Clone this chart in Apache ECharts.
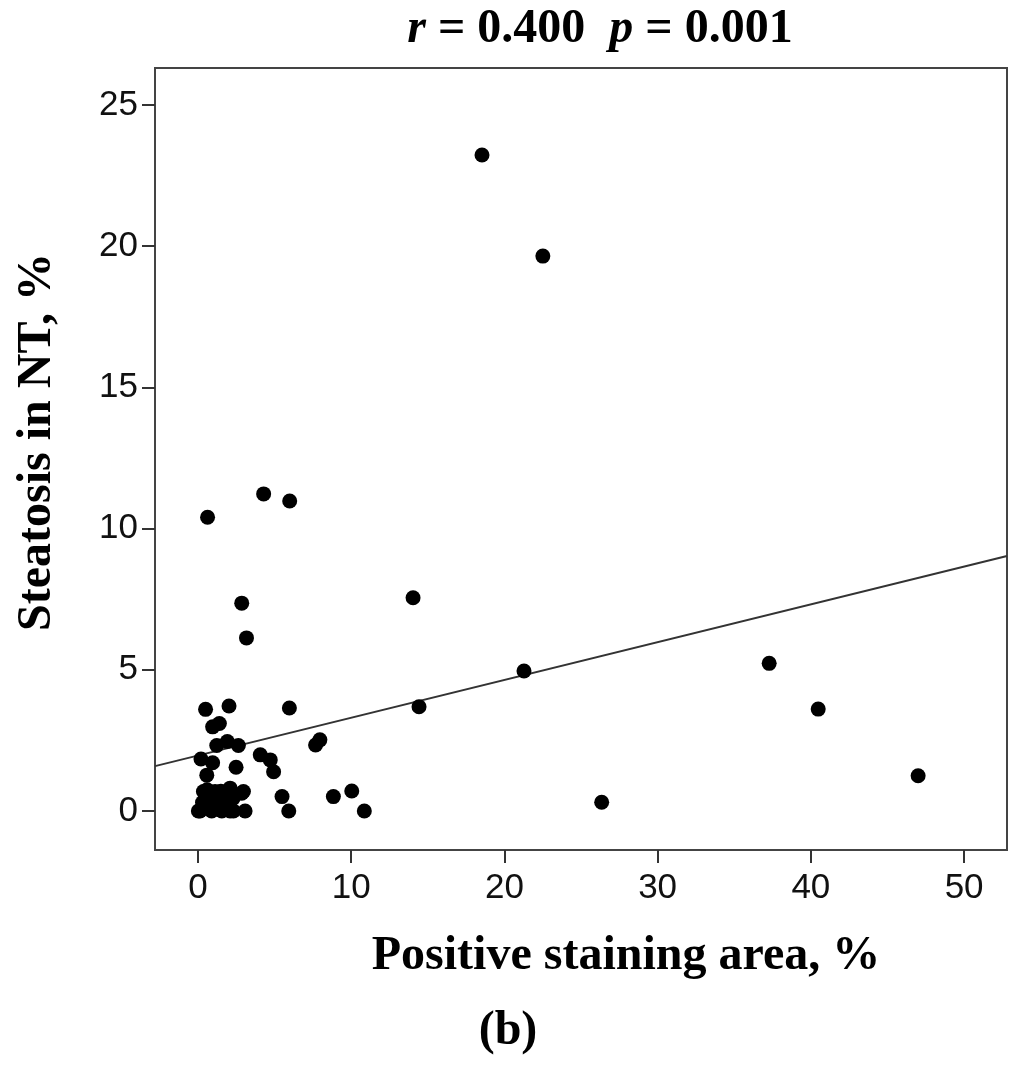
<!DOCTYPE html>
<html>
<head>
<meta charset="UTF-8">
<title>Steatosis vs positive staining area</title>
<script src="https://cdn.jsdelivr.net/npm/echarts@6/dist/echarts.min.js"></script>
<style>
    html, body { margin: 0; background: #fff; }
    #chart { width: 1024px; height: 1065px; }
</style>
</head>
<body>
<div id="chart"></div>
<script>
// values
const stainArea = [
    0.50, 2.03, 5.97, 0.96, 1.40, 1.23, 1.92, 2.64, 0.20, 0.96,
    2.49, 4.07, 4.72, 4.94, 7.68, 7.96, 0.58, 0.36, 2.10, 2.86,
    5.49, 3.08, 5.93, 8.84, 10.04, 10.86, 26.35, 14.43, 14.04, 21.28,
    18.54, 22.51, 37.28, 40.48, 47.00, 0.63, 4.29, 5.99, 2.86, 3.17,
    0.14, 0.90, 1.56, 2.10, 1.23, 0.30, 0.60, 1.00, 1.50, 1.80,
    2.30, 1.20, 0.50, 1.70, 1.12, 2.97, 0.03, 2.32
]
const steatosis = [
    3.60, 3.72, 3.65, 2.98, 3.10, 2.32, 2.46, 2.32, 1.84, 1.71,
    1.55, 1.99, 1.81, 1.39, 2.34, 2.52, 1.27, 0.69, 0.81, 0.63,
    0.51, 0.00, 0.00, 0.51, 0.71, 0.00, 0.31, 3.69, 7.55, 4.96,
    23.23, 19.65, 5.23, 3.61, 1.25, 10.40, 11.23, 10.98, 7.36, 6.13,
    0.00, 0.00, 0.00, 0.00, 0.39, 0.30, 0.75, 0.50, 0.70, 0.25,
    0.45, 0.10, 0.10, 0.50, 0.69, 0.69, 0.00, 0.00
]
const xTicks = [0, 10, 20, 30, 40, 50]
const yTicks = [0, 5, 10, 15, 20, 25]
// fit line end points, at the left and right frame
const fitX = [-2.8, 52.8]
const fitY = [1.59, 9.03]

const SANS = '"Liberation Sans", Arial, sans-serif'
const SERIF = '"Liberation Serif", "Times New Roman", serif'

let chart = echarts.init(document.getElementById('chart'), null, {renderer: 'canvas'})

let axisCommon = {
    type: 'value',
    splitLine: {show: false},
    axisLine: {show: true, onZero: false, lineStyle: {color: '#444', width: 2}},
    axisTick: {show: true, inside: false, length: 13, lineStyle: {color: '#333', width: 2}},
}

chart.setOption({
    animation: false,
    backgroundColor: '#fff',
    grid: {left: 155, right: 17, top: 68, bottom: 215, show: true,
        borderColor: '#444', borderWidth: 2, backgroundColor: 'transparent'},
    xAxis: Object.assign({}, axisCommon, {
        min: -2.8, max: 52.8,
        axisTick: Object.assign({}, axisCommon.axisTick, {customValues: xTicks}),
        axisLabel: {customValues: xTicks, margin: 21, fontSize: 35,
            fontFamily: SANS, color: '#111'},
    }),
    yAxis: Object.assign({}, axisCommon, {
        min: -1.38, max: 26.31,
        axisTick: Object.assign({}, axisCommon.axisTick, {customValues: yTicks}),
        axisLabel: {customValues: yTicks, margin: 17, fontSize: 35,
            padding: [8, 0, 0, 0], fontFamily: SANS, color: '#111'},
    }),
    series: [
        {
            type: 'line',
            data: fitX.map((x, i) => [x, fitY[i]]),
            symbol: 'none',
            lineStyle: {color: '#333', width: 2},
            z: 1,
        },
        {
            type: 'scatter',
            data: stainArea.map((x, i) => [x, steatosis[i]]),
            symbol: 'circle',
            symbolSize: 15,
            itemStyle: {color: '#000', opacity: 1},
            z: 2,
        },
    ],
    graphic: [
        {
            type: 'text', x: 600, y: 30,
            style: {
                text: '{i|r}{n| = 0.400  }{i|p}{n| = 0.001}',
                font: 'bold 48px ' + SERIF, fill: '#000',
                align: 'center', verticalAlign: 'middle',
                rich: {
                    i: {fontStyle: 'italic', fontWeight: 'bold', fontSize: 48, fontFamily: SERIF},
                    n: {fontWeight: 'bold', fontSize: 48, fontFamily: SERIF},
                },
            },
        },
        {
            type: 'text', x: 626, y: 957,
            style: {text: 'Positive staining area, %', font: 'bold 48px ' + SERIF,
                fill: '#000', align: 'center', verticalAlign: 'middle'},
        },
        {
            type: 'text', x: 508, y: 1032,
            style: {text: '(b)', font: 'bold 48px ' + SERIF,
                fill: '#000', align: 'center', verticalAlign: 'middle'},
        },
        {
            type: 'text', x: 38, y: 442, rotation: Math.PI / 2,
            style: {text: 'Steatosis in NT, %', font: 'bold 48px ' + SERIF,
                fill: '#000', align: 'center', verticalAlign: 'middle'},
        },
    ],
})
</script>
</body>
</html>
